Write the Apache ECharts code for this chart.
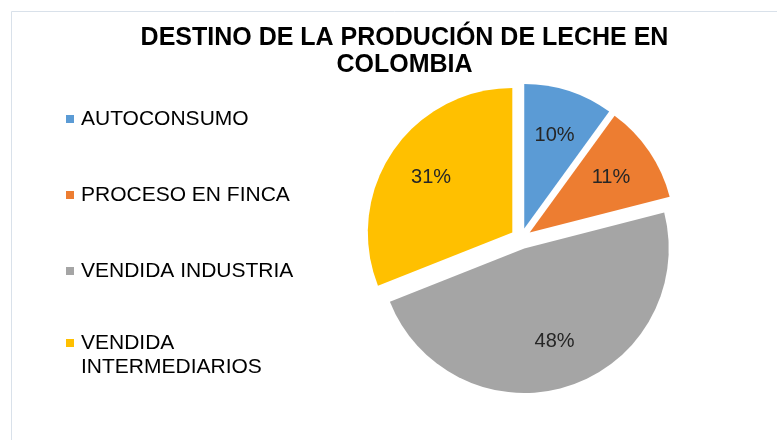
<!DOCTYPE html>
<html>
<head>
<meta charset="utf-8">
<script src="https://cdn.jsdelivr.net/npm/echarts@6/dist/echarts.min.js"></script>
<style>
html,body{margin:0;padding:0;background:#fff;}
#chart{width:777px;height:440px;}
</style>
</head>
<body>
<div id="chart"></div>
<script>
var titleText = 'DESTINO DE LA PRODUCIÓN DE LECHE EN\nCOLOMBIA';
var categories = ['AUTOCONSUMO', 'PROCESO EN FINCA', 'VENDIDA INDUSTRIA', 'VENDIDA INTERMEDIARIOS'];
var values = [10, 11, 48, 31];
var colors = ['#5B9BD5', '#ED7D31', '#A5A5A5', '#FFC000'];

var chart = echarts.init(document.getElementById('chart'), null, {renderer: 'canvas'});

function buildData(transparent) {
  return categories.map(function (n, i) {
    return {
      name: n,
      value: values[i],
      selected: true,
      itemStyle: {color: transparent ? 'rgba(0,0,0,0)' : colors[i]}
    };
  });
}

// legend icon box is 8 x 32; square centered for single-line items,
// square at the top for the wrapped (two-line) item
var iconCentered = 'path://M0,0L0,0ZM8,32L8,32ZM0,12L8,12L8,20L0,20Z';
var iconTop = 'path://M0,0L8,0L8,8L0,8ZM8,32L8,32Z';

var legendData = categories.map(function (n, i) {
  return {
    name: n,
    icon: (i === categories.length - 1) ? iconTop : iconCentered,
    itemStyle: {color: colors[i], borderWidth: 0}
  };
});

var pieCenter = [521, 238.5];
var pieRadius = 144.5;

var option = {
  backgroundColor: '#ffffff',
  animation: false,
  color: colors,
  title: {
    text: titleText,
    left: 404.5,
    textAlign: 'center',
    top: 25,
    padding: 0,
    textStyle: {
      fontFamily: 'Liberation Sans, Arial, sans-serif',
      fontSize: 25,
      fontWeight: 'bold',
      color: '#000000',
      lineHeight: 27
    }
  },
  graphic: [{
    type: 'rect',
    silent: true,
    shape: {x: 11.5, y: 11.5, width: 820, height: 460},
    style: {fill: 'none', stroke: '#D9E1EA', lineWidth: 1}
  }],
  legend: {
    orient: 'vertical',
    left: 66,
    top: 103,
    padding: 0,
    itemGap: 44,
    itemWidth: 8,
    itemHeight: 32,
    selectedMode: false,
    data: legendData,
    itemStyle: {borderWidth: 0},
    textStyle: {
      fontFamily: 'Liberation Sans, Arial, sans-serif',
      fontSize: 21,
      lineHeight: 24,
      color: '#000000',
      width: 230,
      overflow: 'break',
      padding: [0, 0, 0, 2]
    }
  },
  series: [
    {
      type: 'pie',
      name: 'fill',
      center: pieCenter,
      radius: [0, pieRadius],
      startAngle: 90,
      clockwise: true,
      selectedMode: 'multiple',
      selectedOffset: 10.5,
      silent: true,
      itemStyle: {borderWidth: 0},
      label: {show: false},
      labelLine: {show: false},
      emphasis: {disabled: true},
      data: buildData(false)
    },
    {
      type: 'pie',
      name: 'labels',
      center: pieCenter,
      radius: [46, pieRadius],
      startAngle: 90,
      clockwise: true,
      selectedMode: 'multiple',
      selectedOffset: 10.5,
      silent: true,
      percentPrecision: 0,
      itemStyle: {borderWidth: 0},
      emphasis: {disabled: true},
      labelLine: {show: false},
      label: {
        show: true,
        position: 'inside',
        formatter: '{d}%',
        offset: [2, 0],
        fontFamily: 'Liberation Sans, Arial, sans-serif',
        fontSize: 20,
        color: '#262626'
      },
      data: buildData(true)
    }
  ]
};

chart.setOption(option);
</script>
</body>
</html>
